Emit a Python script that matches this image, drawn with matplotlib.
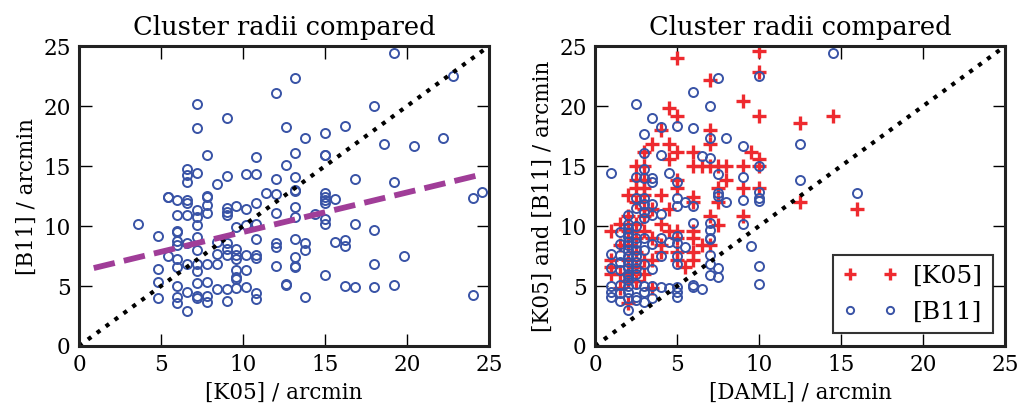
import matplotlib
matplotlib.use("Agg")
import matplotlib.pyplot as plt
import numpy as np

plt.rcParams['font.family'] = ['DejaVu Serif']

# left panel: K05 radius vs B11 radius (arcmin)
k05_left = [3.6, 4.8, 4.8, 4.8, 4.8, 5.4, 5.4, 5.4,
            6.0, 6.0, 6.0, 6.0, 6.0, 6.0, 6.0, 6.0, 6.0, 6.0, 6.0,
            6.6, 6.6, 6.6, 6.6, 6.6, 6.6, 6.6, 6.6, 6.6, 6.6,
            7.2, 7.2, 7.2, 7.2, 7.2, 7.2, 7.2, 7.2, 7.2, 7.2, 7.2, 7.2, 7.2,
            7.8, 7.8, 7.8, 7.8, 7.8, 7.8, 7.8, 7.8, 7.8,
            8.4, 8.4, 8.4, 8.4, 8.4,
            9.0, 9.0, 9.0, 9.0, 9.0, 9.0, 9.0, 9.0, 9.0, 9.0,
            9.6, 9.6, 9.6, 9.6, 9.6, 9.6, 9.6, 9.6, 9.6,
            10.2, 10.2, 10.2, 10.2, 10.2, 10.2,
            10.8, 10.8, 10.8, 10.8, 10.8, 10.8, 10.8, 10.8, 10.8,
            11.4, 12.0, 12.0, 12.0, 12.0, 12.0, 12.0, 12.0,
            12.6, 12.6, 12.6, 12.6,
            13.2, 13.2, 13.2, 13.2, 13.2, 13.2, 13.2, 13.2, 13.2, 13.2, 13.2,
            13.8, 13.8, 13.8, 13.8, 14.4,
            15.0, 15.0, 15.0, 15.0, 15.0, 15.0, 15.0, 15.0, 15.0, 15.0,
            15.6, 15.6, 16.2, 16.2, 16.2, 16.2, 16.8, 16.8, 16.8,
            18.0, 18.0, 18.0, 18.0, 18.6, 19.2, 19.2, 19.2, 19.8,
            20.4, 22.2, 22.8, 24.0, 24.0, 24.6]
b11_left = [10.2, 9.2, 6.4, 5.3, 4.0, 12.4, 7.5, 12.4,
            12.2, 10.9, 9.6, 9.5, 8.75, 8.4, 7.25, 6.6, 5.0, 4.1, 3.6,
            14.75, 14.25, 13.7, 11.9, 10.9, 8.6, 6.8, 4.5, 2.9, 12.2,
            20.2, 18.2, 14.4, 11.3, 10.75, 10.1, 9.1, 8.0, 6.8, 6.25, 5.25, 4.2, 4.0,
            15.9, 12.5, 12.4, 11.75, 11.1, 6.8, 5.3, 4.2, 3.7,
            13.5, 8.7, 7.7, 6.8, 4.75,
            19.0, 14.2, 11.5, 11.2, 10.9, 8.6, 8.1, 7.6, 4.75, 3.75,
            11.7, 9.9, 8.1, 7.6, 7.25, 6.3, 5.75, 5.6, 4.8,
            14.3, 11.4, 10.1, 7.6, 6.3, 4.9,
            15.75, 14.3, 11.9, 10.2, 8.9, 7.6, 7.3, 4.4, 3.9,
            12.75, 21.1, 13.9, 12.7, 11.1, 8.6, 8.25, 6.7,
            18.25, 15.1, 5.1, 5.2,
            22.3, 16.1, 14.1, 11.6, 10.75, 8.9, 7.4, 6.7, 6.6, 13.0, 12.9,
            17.3, 8.6, 8.0, 4.1, 11.0,
            17.75, 15.9, 12.75, 12.4, 12.2, 11.9, 10.6, 10.2, 5.9, 15.95,
            12.25, 8.7, 18.3, 8.8, 8.3, 5.0, 13.9, 10.2, 4.9,
            20.0, 9.7, 6.8, 4.9, 16.8, 24.4, 13.7, 5.1, 7.5,
            16.7, 17.3, 22.5, 12.3, 4.25, 12.8]

# linear fit shown in the left panel
fit_slope = 0.33
fit_intercept = 6.2
fit_range = [0.9, 24.7]

# right panel: DAML radius vs K05 and B11 radii
daml_k05 = [5, 10, 10, 7, 9, 4.5, 5, 10, 14.5, 12.5, 4, 7, 3.5, 4.5, 7,
            3, 5, 6, 9.5, 4.5, 10,
            2.5, 3, 6, 6.5, 7, 7.5, 8, 9, 10,
            8, 2.5, 3, 5, 2.5, 3, 5, 7.5, 9, 10,
            4, 6, 6, 7.5, 12.5, 16, 2, 2.5, 3,
            7, 9, 7.5, 6, 6, 6.5, 7, 5.5, 6, 6, 5, 5, 5, 5, 4.5, 4, 4,
            3.5, 3.5, 3.5, 3, 3, 2.5, 2.5, 2.5, 2, 2, 2, 2, 2, 2,
            1.5, 1.5, 1.5, 1, 1, 1, 1, 3, 3, 2.5, 4, 3.5, 4.5, 3, 2, 1.5, 2.5]
k05_right = [24.0, 24.6, 22.8, 22.2, 20.4, 19.8, 19.2, 19.2, 19.2, 18.6, 18.0, 18.0, 16.8, 16.8, 16.8,
             16.2, 16.2, 16.2, 16.2, 15.6, 15.6,
             15.0, 15.0, 15.0, 15.0, 15.0, 15.0, 15.0, 15.0, 15.0,
             13.8, 13.8, 13.8, 13.8, 13.2, 13.2, 13.2, 13.2, 13.2, 13.2,
             12.6, 12.4, 12.0, 12.0, 12.0, 11.4, 12.6, 12.0, 12.6,
             10.8, 10.8, 10.1, 9.6, 9.0, 8.4, 8.4, 6.6, 7.8, 7.2, 9.6, 9.0, 7.8, 7.2, 9.6, 8.4, 7.8,
             9.0, 7.2, 4.8, 9.6, 10.8, 10.2, 9.0, 7.8, 10.8, 9.6, 8.4, 7.2, 6.0, 3.6,
             10.2, 8.4, 4.8, 9.6, 7.2, 6.6, 6.0, 7.2, 6.0, 6.6, 10.2, 11.4, 11.4, 11.4, 5.4, 6.0, 5.4]

daml_b11 = [14.5, 10, 7.5, 6, 2.5, 7, 3.5, 4, 5, 6, 3, 7, 8, 12.5, 9, 3, 4, 6.5, 7, 10,
            3, 1, 4.5, 7.5, 2.5, 3, 3.5, 9, 12.5, 3.5, 5, 16, 7.5, 7.5, 10, 10, 10, 9, 8, 6,
            5, 5, 5.5, 2.5, 3, 2.5, 3, 3.5, 2, 3, 2, 2, 2, 2,
            7, 7, 7, 6, 9, 9.5, 10, 10, 7.5, 7.5, 7, 7, 7, 7, 6.5, 6, 6,
            5.5, 5, 5, 5, 5, 5, 5, 5, 4.5, 4, 4.5, 4, 3.5, 3.5, 3, 2, 1, 1, 1.5, 1,
            2, 2, 2, 2, 2, 2, 2, 2.5, 2.5, 2.5, 2.5, 2.5, 2.5, 1.5, 1.5, 1.5, 1.5, 1.5,
            1, 1, 3, 3, 2, 2, 3.5, 3, 3, 3.5, 4, 3, 3.5, 4, 2.5, 1.5, 2.5,
            2, 2, 2.5, 2.5, 1.5, 2, 3, 2.5]
b11_right = [24.4, 22.5, 22.3, 21.2, 20.2, 20.0, 19.0, 18.25, 18.3, 18.2, 17.7, 17.3, 17.3, 16.8, 16.7,
             16.1, 15.9, 15.8, 15.7, 15.0,
             14.75, 14.4, 14.4, 14.3, 14.1, 14.0, 14.0, 14.1, 13.8, 13.7, 13.7, 12.75, 12.75, 12.5,
             12.8, 12.3, 12.1, 12.2, 12.0, 11.7,
             12.3, 11.7, 12.0, 12.3, 12.3, 11.5, 11.2, 10.9, 10.9, 10.7, 10.2, 9.8, 9.4, 8.7,
             10.25, 9.7, 9.0, 10.25, 10.2, 8.3, 6.7, 5.2, 6.5, 5.75, 8.9, 7.6, 6.8, 5.9, 4.75, 5.1, 4.9,
             8.25, 9.2, 8.6, 7.5, 6.8, 4.9, 4.5, 4.1, 4.8, 4.9, 8.7, 7.5, 6.4, 4.0, 3.7, 3.0, 4.5, 4.1, 3.75, 7.7,
             5.0, 5.5, 6.0, 6.5, 7.0, 7.5, 8.0, 5.2, 6.0, 7.0, 8.0, 9.0, 10.0, 5.1, 6.3, 7.0, 8.5, 9.5,
             5.0, 6.5, 5.0, 4.5, 4.5, 4.0, 5.0, 8.0, 9.0, 8.5, 9.0, 11.8, 11.8, 11.0, 3.8, 4.4, 4.1,
             8.4, 9.1, 6.5, 7.5, 7.6, 5.8, 6.8, 8.6]

red = '#ee2a2f'
blue = '#3953a6'
purple = '#a03d98'

fig = plt.figure(figsize=(10.26, 4.08), dpi=100)
ax1 = fig.add_axes([0.077, 0.152, 0.3996, 0.735])
ax2 = fig.add_axes([0.580, 0.152, 0.3996, 0.735])

diag = np.array([0, 25])

ax1.plot(k05_left, b11_left, 'o', mfc='none', mec=blue, mew=1.4, ms=6.5)
ax1.plot(diag, diag, ':', color='k', lw=3)
fx = np.array(fit_range)
ax1.plot(fx, fit_slope * fx + fit_intercept, '--', color=purple, lw=4.2)
ax1.set_xlabel("[K05] / arcmin", fontsize=15.5)
ax1.set_ylabel("[B11] / arcmin", fontsize=15.5)
ax1.set_title("Cluster radii compared", fontsize=18.5, pad=8)

ax2.plot(daml_k05, k05_right, '+', color=red, mew=2.4, ms=10, label="[K05]")
ax2.plot(daml_b11, b11_right, 'o', mfc='none', mec=blue, mew=1.4, ms=6.5, label="[B11]")
ax2.plot(diag, diag, ':', color='k', lw=3)
ax2.set_xlabel("[DAML] / arcmin", fontsize=15.5)
ax2.set_ylabel("[K05] and [B11] / arcmin", fontsize=15.5)
ax2.set_title("Cluster radii compared", fontsize=18.5, pad=8)
leg = ax2.legend(loc='lower right', numpoints=2, fontsize=18, fancybox=False,
                 handletextpad=0.6, borderpad=0.4, handlelength=2.2, markerscale=0.8)
leg.get_frame().set_edgecolor('k')
leg.get_frame().set_linewidth(1.5)

for ax in (ax1, ax2):
    ax.set_xlim(0, 25)
    ax.set_ylim(0, 25)
    ax.set_xticks([0, 5, 10, 15, 20, 25])
    ax.set_yticks([0, 5, 10, 15, 20, 25])
    ax.tick_params(direction='in', length=9, width=1, labelsize=15.5,
                   top=True, right=True, pad=6)
    for s in ax.spines.values():
        s.set_linewidth(2.2)
        s.set_color('#222222')

fig.savefig("out.png", dpi=100)
